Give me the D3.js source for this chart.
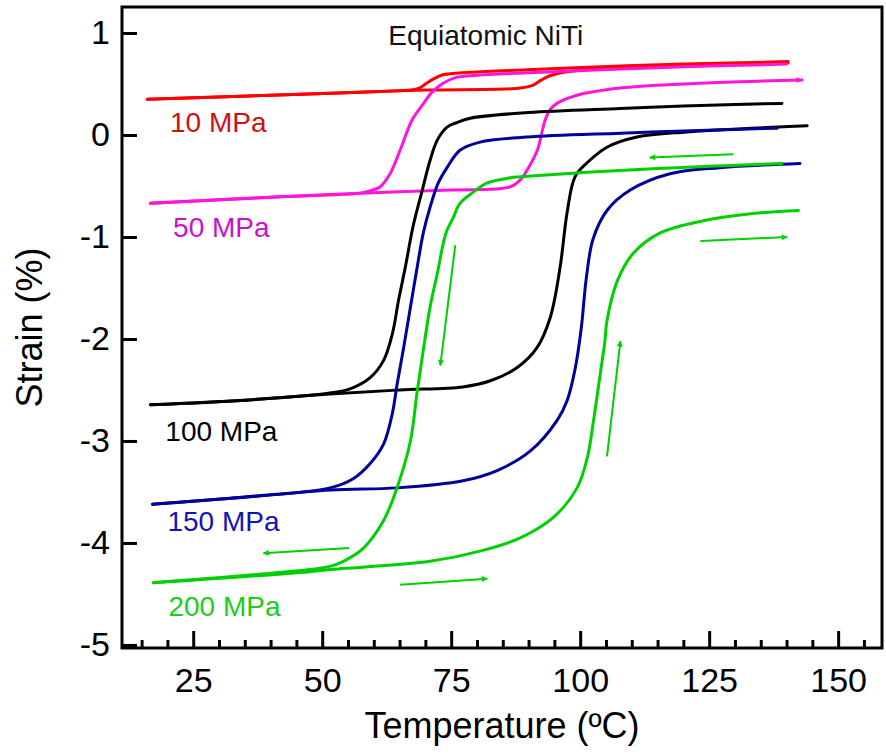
<!DOCTYPE html>
<html>
<head>
<meta charset="utf-8">
<script src="https://cdn.jsdelivr.net/npm/d3@7"></script>
<style>
  body { margin: 0; background: #fff; }
  svg text { font-family: "Liberation Sans", Arial, sans-serif; }
</style>
</head>
<body>
<svg id="chart" width="886" height="755"></svg>
<script>
// strain-temperature loops, [temperature ºC, strain %]
const cool10 = [[140.3,0.72],[120,0.695],[107.8,0.676],[89.7,0.64],[78.7,0.615],[73.4,0.59],[71.6,0.55],[70.3,0.51],[68.8,0.46],[67.6,0.445],[57.4,0.42],[40,0.39],[16.1,0.35]];
const heat10 = [[16.1,0.35],[40,0.39],[57.4,0.42],[70,0.44],[88.4,0.46],[90.9,0.49],[92.5,0.54],[93.6,0.57],[95.5,0.6],[97.5,0.62],[107.8,0.665],[140.3,0.705]];

const cool50 = [[140,0.695],[120,0.67],[107.8,0.646],[90,0.61],[80,0.585],[76,0.565],[73.5,0.51],[71.3,0.42],[69.5,0.3],[67.4,0.145],[65.1,-0.15],[63.2,-0.375],[61.2,-0.51],[59,-0.55],[57.4,-0.57],[40,-0.61],[16.7,-0.67]];
const heat50 = [[16.7,-0.67],[40,-0.61],[57.4,-0.57],[75,-0.54],[86.4,-0.51],[88.4,-0.44],[90,-0.32],[91.7,-0.15],[93.2,0.145],[94.2,0.25],[95.5,0.31],[99.4,0.39],[107.8,0.46],[120,0.5],[143,0.54]];

const cool100 = [[139.1,0.31],[120,0.285],[107.8,0.26],[90,0.22],[78.7,0.165],[76,0.12],[74.2,0.077],[72.3,-0.05],[70.9,-0.25],[69.4,-0.54],[67.6,-0.9],[66.1,-1.3],[64.8,-1.62],[63.6,-1.95],[61.9,-2.21],[59.3,-2.38],[55.4,-2.49],[51.5,-2.53],[35,-2.6],[16.7,-2.645]];
const heat100 = [[16.7,-2.645],[35,-2.6],[51.5,-2.54],[65,-2.5],[77.3,-2.47],[82.6,-2.41],[87.8,-2.28],[91.7,-2.08],[94.2,-1.79],[96.1,-1.3],[97.5,-0.75],[99,-0.41],[101.4,-0.27],[105.2,-0.12],[111,-0.02],[120.7,0.03],[144,0.09]];

const cool150 = [[138.2,0.067],[120,0.04],[107.8,0.018],[89.7,-0.02],[80.6,-0.07],[76.7,-0.15],[74.2,-0.32],[72.5,-0.47],[70.9,-0.71],[69.6,-0.96],[68.4,-1.3],[67.1,-1.69],[65.7,-2.11],[64.5,-2.45],[63.6,-2.73],[61.9,-3.03],[59.3,-3.22],[56,-3.37],[51.5,-3.46],[32.8,-3.56],[17.1,-3.62]];
const heat150 = [[17.1,-3.62],[32.8,-3.56],[51.5,-3.48],[64.5,-3.46],[77.3,-3.39],[83.9,-3.29],[90.3,-3.1],[95.5,-2.8],[97.5,-2.6],[99,-2.3],[100.2,-1.9],[101.2,-1.4],[102.5,-1.02],[105.2,-0.74],[109.7,-0.54],[117.4,-0.38],[127.1,-0.32],[142.6,-0.28]];

const cool200 = [[139.1,-0.28],[114.1,-0.33],[100,-0.37],[88.4,-0.41],[86.4,-0.42],[82,-0.47],[79.3,-0.56],[76.7,-0.67],[75.4,-0.81],[74,-0.96],[72.3,-1.36],[70.9,-1.69],[69.6,-2.11],[68.4,-2.52],[67.1,-3.0],[64.5,-3.46],[61.9,-3.78],[58,-4.05],[54.1,-4.18],[51.5,-4.23],[45.7,-4.27],[17.3,-4.39]];
const heat200 = [[17.3,-4.39],[45.7,-4.29],[51.5,-4.26],[70.9,-4.18],[80.6,-4.08],[88.4,-3.95],[94.8,-3.75],[99.4,-3.46],[101.4,-3.16],[102.5,-2.83],[103.9,-2.34],[104.8,-2.02],[105.2,-1.82],[107.2,-1.43],[110.3,-1.16],[115.5,-0.96],[123.9,-0.84],[133.5,-0.77],[142.3,-0.74]];

const stresses = ["10 MPa", "50 MPa", "100 MPa", "150 MPa", "200 MPa"];
const lineColors = ["#ff0000", "#ff14dc", "#000000", "#00009a", "#00d000"];
const labelColors = ["#d01010", "#cc10cc", "#000000", "#1414b4", "#20cc20"];
// label anchor [T, strain] (left/baseline)
const labelAt = [[20.5,0.027],[21.1,-1.0],[19.6,-3.0],[20.0,-3.88],[20.2,-4.72]];

// green direction arrows [[T0,S0],[T1,S1]]
const arrows200 = [
  [[129.7,-0.19],[113.5,-0.22]],
  [[75.8,-1.08],[72.9,-2.26]],
  [[55.2,-4.05],[38.6,-4.10]],
  [[65.1,-4.41],[82.0,-4.35]],
  [[105.2,-3.15],[107.8,-2.02]],
  [[123.3,-1.04],[140.1,-1.0]]
];

const xTicks = [25, 50, 75, 100, 125, 150];
const xMinor = d3.range(15, 160, 5).filter(v => v % 25 !== 0);
const yTicks = [-5, -4, -3, -2, -1, 0, 1];

const loops = [
  [cool10, heat10], [cool50, heat50], [cool100, heat100], [cool150, heat150], [cool200, heat200]
];

const svg = d3.select("#chart"),
    width = +svg.attr("width"),
    height = +svg.attr("height"),
    margin = { top: 7, right: 4, bottom: 107, left: 122 },
    innerWidth = width - margin.left - margin.right,
    innerHeight = height - margin.top - margin.bottom;

const g = svg.append("g").attr("transform", `translate(${margin.left},${margin.top})`);

const x = d3.scaleLinear().domain([11.2, 158.5]).range([0, innerWidth]);
const y = d3.scaleLinear().domain([-5.03, 1.255]).range([innerHeight, 0]);

const defs = svg.append("defs");
function marker(id, color) {
    defs.append("marker")
        .attr("id", id)
        .attr("viewBox", "0 0 10 10")
        .attr("refX", 9).attr("refY", 5)
        .attr("markerWidth", 10).attr("markerHeight", 6)
        .attr("markerUnits", "userSpaceOnUse")
        .attr("orient", "auto")
        .append("path")
        .attr("d", "M0,0 L10,5 L0,10 Z")
        .attr("fill", color);
}
marker("arrGreen", lineColors[4]);
marker("arrPink", lineColors[1]);

const line = d3.line()
    .x(d => x(d[0]))
    .y(d => y(d[1]))
    .curve(d3.curveCatmullRom.alpha(0.5));

loops.forEach((pair, i) => {
    pair.forEach((branch, j) => {
        const p = g.append("path")
            .attr("d", line(branch))
            .attr("fill", "none")
            .attr("stroke", lineColors[i])
            .attr("stroke-width", 3)
            .attr("stroke-linejoin", "round")
            .attr("stroke-linecap", "round");
        if (i === 1 && j === 1) p.attr("marker-end", "url(#arrPink)");
    });
});

g.selectAll(".arrow")
    .data(arrows200)
    .enter().append("line")
    .attr("class", "arrow")
    .attr("x1", d => x(d[0][0])).attr("y1", d => y(d[0][1]))
    .attr("x2", d => x(d[1][0])).attr("y2", d => y(d[1][1]))
    .attr("stroke", lineColors[4])
    .attr("stroke-width", 2)
    .attr("marker-end", "url(#arrGreen)");

g.selectAll(".mpa")
    .data(stresses)
    .enter().append("text")
    .attr("class", "mpa")
    .attr("x", (d, i) => x(labelAt[i][0]))
    .attr("y", (d, i) => y(labelAt[i][1]))
    .attr("fill", (d, i) => labelColors[i])
    .style("font-size", "28px")
    .text(d => d);

g.append("text")
    .attr("x", x(62.8))
    .attr("y", y(0.88))
    .style("font-size", "28px")
    .attr("fill", "#111")
    .text("Equiatomic NiTi");

// axes
const xAxis = g.append("g")
    .attr("transform", `translate(0,${innerHeight})`)
    .call(d3.axisBottom(x).tickValues(xTicks).tickSize(-17).tickPadding(20).tickSizeOuter(0));
const xMinorAxis = g.append("g")
    .attr("transform", `translate(0,${innerHeight})`)
    .call(d3.axisBottom(x).tickValues(xMinor).tickSize(-8).tickFormat("").tickSizeOuter(0));
xMinorAxis.selectAll(".tick text").remove();
const yAxis = g.append("g")
    .call(d3.axisLeft(y).tickValues(yTicks).tickFormat(d => String(d)).tickSize(-15).tickPadding(12).tickSizeOuter(0));

[xAxis, xMinorAxis, yAxis].forEach(a => {
    a.select(".domain").remove();
    a.attr("font-size", null);
    a.selectAll(".tick line").attr("stroke", "#000").attr("stroke-width", 3);
    a.selectAll(".tick text")
        .attr("fill", "#000")
        .style("font-size", "34px")
        .style("font-family", "'Liberation Sans', Arial, sans-serif");
});

g.append("rect")
    .attr("x", 0).attr("y", 0)
    .attr("width", innerWidth).attr("height", innerHeight)
    .attr("fill", "none")
    .attr("stroke", "#000")
    .attr("stroke-width", 3);

svg.append("text")
    .attr("x", margin.left + innerWidth / 2)
    .attr("y", 738)
    .attr("text-anchor", "middle")
    .style("font-size", "36px")
    .text("Temperature (ºC)");

svg.append("text")
    .attr("transform", `translate(42,${margin.top + innerHeight / 2}) rotate(-90)`)
    .attr("text-anchor", "middle")
    .style("font-size", "36px")
    .text("Strain (%)");
</script>
</body>
</html>
